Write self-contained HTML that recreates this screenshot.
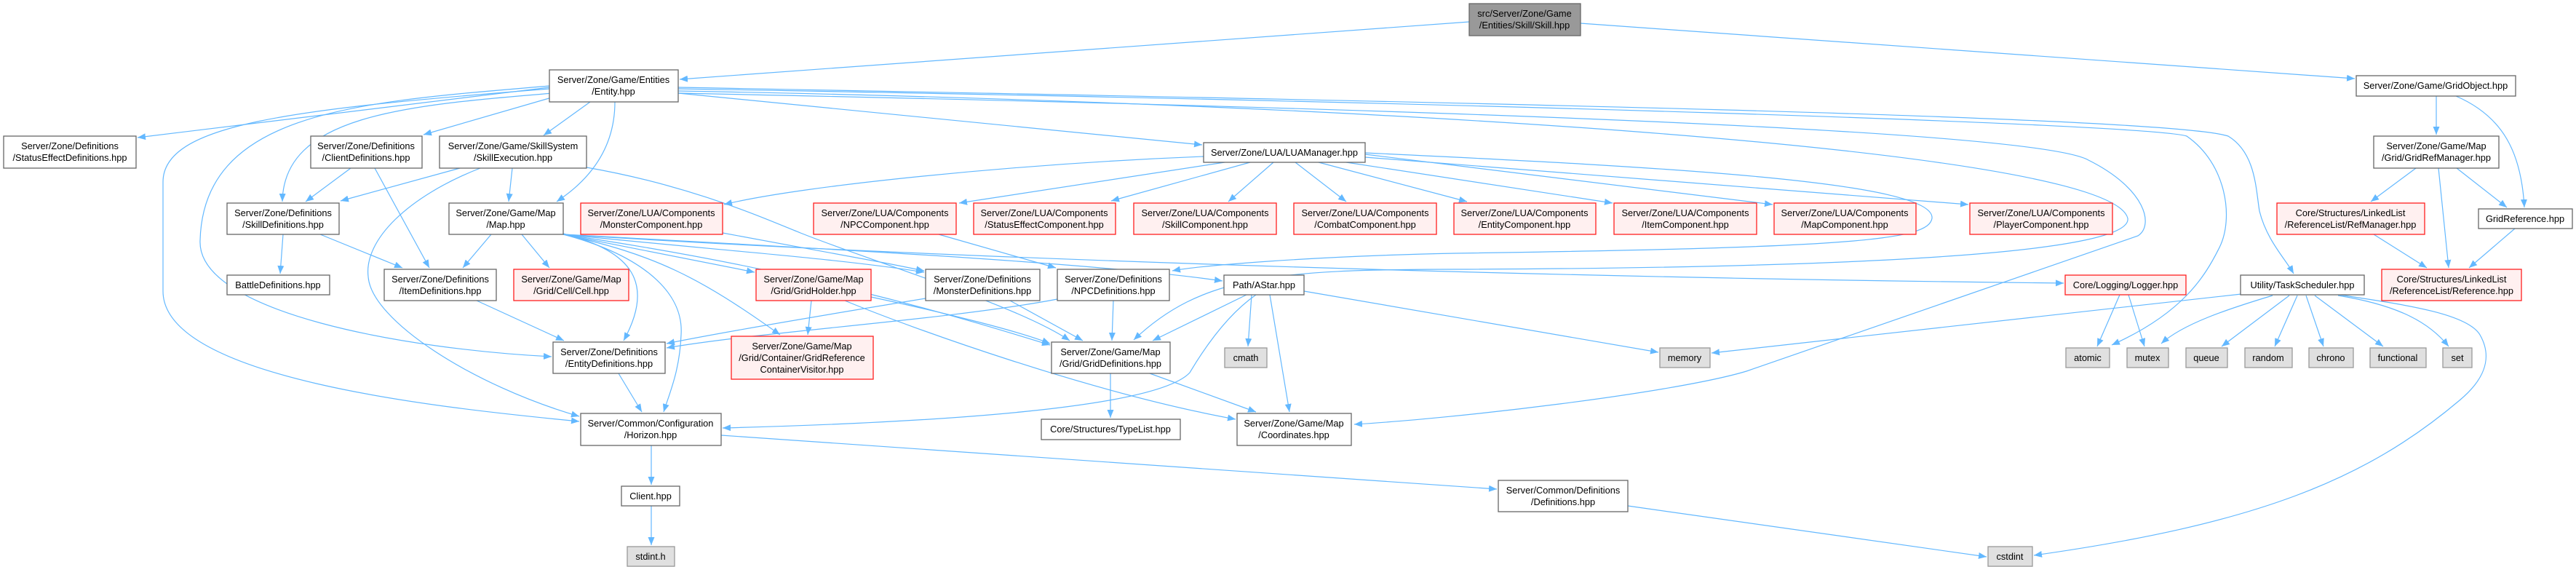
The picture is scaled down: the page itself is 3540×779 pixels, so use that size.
<!DOCTYPE html>
<html><head><meta charset="utf-8"><style>
html,body{margin:0;padding:0;background:#fff;}
svg{display:block;}
text{font-family:"Liberation Sans",Arial,sans-serif;font-size:12.8px;fill:#000;text-anchor:middle;}
.n{fill:#fff;stroke:#666;stroke-width:1.3;}
.r{fill:#fff0f0;stroke:#ff2020;stroke-width:1.3;}
.g{fill:#e0e0e0;stroke:#999;stroke-width:1.3;}
.root{fill:#999;stroke:#666;stroke-width:1.3;}
path.e{fill:none;stroke:#63b8ff;stroke-width:1.2;marker-end:url(#a);}
</style></head><body>
<svg width="3540" height="779" viewBox="0 0 3540 779" xmlns="http://www.w3.org/2000/svg">
<defs><marker id="a" markerUnits="userSpaceOnUse" markerWidth="12" markerHeight="9" refX="11" refY="4.5" orient="auto"><path d="M0,0 L11,4.5 L0,9 z" fill="#63b8ff"/></marker></defs>

<!-- edges -->
<path class="e" d="M2019,30 L934,109"/>
<path class="e" d="M2172,32 L3236,108"/>
<path class="e" d="M755,120 L189,189"/>
<path class="e" d="M758,134 L582,185"/>
<path class="e" d="M760,128 C 550,145 390,160 388,277"/>
<path class="e" d="M811,140 L747,186"/>
<path class="e" d="M845,140 C 845,220 790,260 765,277"/>
<path class="e" d="M755,118 C 500,140 280,150 275,330 C 270,430 560,480 758,490"/>
<path class="e" d="M755,122 C 400,150 224,170 224,250 L224,400 C 224,520 600,560 796,579"/>
<path class="e" d="M932,128 L1652,199"/>
<path class="e" d="M932,128 C 2000,150 2800,180 2870,220 C 2950,260 2960,310 2938,324 L2400,510 C 2300,540 2000,575 1861,583"/>
<path class="e" d="M932,122 C 2000,140 2950,170 3005,187 C 3060,225 3070,300 3050,340 C 3030,380 3000,430 2902,474"/>
<path class="e" d="M932,120 C 2000,140 2980,160 3062,187 C 3100,210 3100,260 3105,290 C 3115,330 3140,355 3152,376"/>
<path class="e" d="M932,125 C 1800,140 2900,200 2924,300 C 2930,345 2600,368 2000,370 C 1750,370 1650,380 1558,467"/>
<path class="e" d="M482,231 L420,277"/>
<path class="e" d="M515,231 L590,368"/>
<path class="e" d="M632,231 L468,276"/>
<path class="e" d="M660,231 C 560,270 500,330 506,380 C 510,440 650,530 796,572"/>
<path class="e" d="M704,231 L699,277"/>
<path class="e" d="M806,230 C 950,255 1050,300 1100,320 C 1200,360 1400,420 1470,468"/>
<path class="e" d="M389,322 L385,376"/>
<path class="e" d="M440,322 L553,368"/>
<path class="e" d="M675,322 L636,368"/>
<path class="e" d="M717,322 L755,368"/>
<path class="e" d="M774,321 C 870,345 900,390 857,468"/>
<path class="e" d="M774,322 C 880,350 940,400 936,460 C 934,510 920,540 912,566"/>
<path class="e" d="M774,322 L1037,374"/>
<path class="e" d="M774,322 C 900,350 960,380 1072,460"/>
<path class="e" d="M774,322 C 1000,345 1150,355 1270,374"/>
<path class="e" d="M774,322 C 1100,370 1300,430 1443,474"/>
<path class="e" d="M774,322 C 1100,340 1500,360 1680,386"/>
<path class="e" d="M774,322 C 1200,350 2000,380 2836,389"/>
<path class="e" d="M655,413 L775,468"/>
<path class="e" d="M1115,413 L1110,460"/>
<path class="e" d="M1161,413 C 1250,450 1500,540 1698,576"/>
<path class="e" d="M1197,408 C 1300,430 1400,455 1443,472"/>
<path class="e" d="M1272,410 C 1150,430 1000,455 916,472"/>
<path class="e" d="M1453,411 C 1300,440 1050,455 916,478"/>
<path class="e" d="M1388,413 L1488,468"/>
<path class="e" d="M1530,413 L1528,468"/>
<path class="e" d="M850,513 L882,566"/>
<path class="e" d="M895,612 L895,666"/>
<path class="e" d="M895,695 L895,749"/>
<path class="e" d="M991,598 L2057,672"/>
<path class="e" d="M2237,695 L2730,765"/>
<path class="e" d="M1526,513 L1526,574"/>
<path class="e" d="M1580,513 L1726,566"/>
<path class="e" d="M1720,405 L1715,476"/>
<path class="e" d="M1745,405 L1772,566"/>
<path class="e" d="M1713,405 L1584,468"/>
<path class="e" d="M1726,405 C 1690,430 1660,470 1635,512 C 1590,560 1300,580 993,588"/>
<path class="e" d="M1792,400 L2279,484"/>
<path class="e" d="M993,320 L1220,362 L1270,372"/>
<path class="e" d="M1290,322 L1451,368"/>
<path class="e" d="M1654,215 C 1400,225 1100,255 995,281"/>
<path class="e" d="M1683,223 L1318,279"/>
<path class="e" d="M1718,223 L1527,276"/>
<path class="e" d="M1750,223 L1688,277"/>
<path class="e" d="M1780,223 L1850,277"/>
<path class="e" d="M1812,223 L2016,277"/>
<path class="e" d="M1850,223 L2216,279"/>
<path class="e" d="M1876,212 L2436,281"/>
<path class="e" d="M1876,216 L2705,281"/>
<path class="e" d="M1876,210 C 2300,230 2660,250 2655,300 C 2650,330 2550,340 2000,348 C 1800,352 1650,365 1611,372"/>
<path class="e" d="M3348,132 L3348,185"/>
<path class="e" d="M3375,132 C 3440,160 3465,210 3469,285"/>
<path class="e" d="M3320,231 L3258,277"/>
<path class="e" d="M3351,231 L3365,368"/>
<path class="e" d="M3376,231 L3445,285"/>
<path class="e" d="M3262,322 L3335,368"/>
<path class="e" d="M3456,314 L3393,368"/>
<path class="e" d="M3080,404 L2352,485"/>
<path class="e" d="M3123,406 C 3060,425 3000,445 2970,472"/>
<path class="e" d="M3146,406 L3053,476"/>
<path class="e" d="M3157,406 L3126,476"/>
<path class="e" d="M3169,406 L3193,476"/>
<path class="e" d="M3181,406 L3275,476"/>
<path class="e" d="M3213,406 C 3300,420 3340,445 3365,476"/>
<path class="e" d="M3215,405 C 3300,418 3390,430 3408,460 C 3428,495 3410,525 3380,550 C 3250,660 3100,720 2795,763"/>
<path class="e" d="M2913,405 L2882,476"/>
<path class="e" d="M2925,405 L2947,476"/>

<!-- nodes -->
<rect class="root" x="2019" y="5" width="153" height="44"/><text x="2095" y="23">src/Server/Zone/Game</text><text x="2095" y="39">/Entities/Skill/Skill.hpp</text>
<rect class="n" x="755" y="96" width="177" height="44"/><text x="843" y="114">Server/Zone/Game/Entities</text><text x="843" y="130">/Entity.hpp</text>
<rect class="n" x="3238" y="104" width="219" height="28"/><text x="3347" y="122">Server/Zone/Game/GridObject.hpp</text>
<rect class="n" x="5" y="187" width="182" height="44"/><text x="96" y="205">Server/Zone/Definitions</text><text x="96" y="221">/StatusEffectDefinitions.hpp</text>
<rect class="n" x="427" y="187" width="153" height="44"/><text x="503" y="205">Server/Zone/Definitions</text><text x="503" y="221">/ClientDefinitions.hpp</text>
<rect class="n" x="604" y="187" width="202" height="44"/><text x="705" y="205">Server/Zone/Game/SkillSystem</text><text x="705" y="221">/SkillExecution.hpp</text>
<rect class="n" x="1654" y="196" width="222" height="27"/><text x="1765" y="214">Server/Zone/LUA/LUAManager.hpp</text>
<rect class="n" x="3262" y="187" width="172" height="44"/><text x="3348" y="205">Server/Zone/Game/Map</text><text x="3348" y="221">/Grid/GridRefManager.hpp</text>
<rect class="n" x="312" y="279" width="154" height="43"/><text x="389" y="297">Server/Zone/Definitions</text><text x="389" y="313">/SkillDefinitions.hpp</text>
<rect class="n" x="617" y="279" width="157" height="43"/><text x="695" y="297">Server/Zone/Game/Map</text><text x="695" y="313">/Map.hpp</text>
<rect class="r" x="798" y="279" width="195" height="43"/><text x="895" y="297">Server/Zone/LUA/Components</text><text x="895" y="313">/MonsterComponent.hpp</text>
<rect class="r" x="1118" y="279" width="196" height="43"/><text x="1216" y="297">Server/Zone/LUA/Components</text><text x="1216" y="313">/NPCComponent.hpp</text>
<rect class="r" x="1338" y="279" width="195" height="43"/><text x="1435" y="297">Server/Zone/LUA/Components</text><text x="1435" y="313">/StatusEffectComponent.hpp</text>
<rect class="r" x="1558" y="279" width="196" height="43"/><text x="1656" y="297">Server/Zone/LUA/Components</text><text x="1656" y="313">/SkillComponent.hpp</text>
<rect class="r" x="1778" y="279" width="196" height="43"/><text x="1876" y="297">Server/Zone/LUA/Components</text><text x="1876" y="313">/CombatComponent.hpp</text>
<rect class="r" x="1998" y="279" width="195" height="43"/><text x="2095" y="297">Server/Zone/LUA/Components</text><text x="2095" y="313">/EntityComponent.hpp</text>
<rect class="r" x="2218" y="279" width="196" height="43"/><text x="2316" y="297">Server/Zone/LUA/Components</text><text x="2316" y="313">/ItemComponent.hpp</text>
<rect class="r" x="2438" y="279" width="195" height="43"/><text x="2535" y="297">Server/Zone/LUA/Components</text><text x="2535" y="313">/MapComponent.hpp</text>
<rect class="r" x="2707" y="279" width="196" height="43"/><text x="2805" y="297">Server/Zone/LUA/Components</text><text x="2805" y="313">/PlayerComponent.hpp</text>
<rect class="r" x="3129" y="279" width="203" height="43"/><text x="3230" y="297">Core/Structures/LinkedList</text><text x="3230" y="313">/ReferenceList/RefManager.hpp</text>
<rect class="n" x="3406" y="287" width="129" height="27"/><text x="3470" y="305">GridReference.hpp</text>
<rect class="n" x="312" y="378" width="141" height="27"/><text x="382" y="396">BattleDefinitions.hpp</text>
<rect class="n" x="528" y="370" width="154" height="43"/><text x="605" y="388">Server/Zone/Definitions</text><text x="605" y="404">/ItemDefinitions.hpp</text>
<rect class="r" x="706" y="370" width="158" height="43"/><text x="785" y="388">Server/Zone/Game/Map</text><text x="785" y="404">/Grid/Cell/Cell.hpp</text>
<rect class="r" x="1039" y="370" width="158" height="43"/><text x="1118" y="388">Server/Zone/Game/Map</text><text x="1118" y="404">/Grid/GridHolder.hpp</text>
<rect class="n" x="1272" y="370" width="157" height="43"/><text x="1350" y="388">Server/Zone/Definitions</text><text x="1350" y="404">/MonsterDefinitions.hpp</text>
<rect class="n" x="1453" y="370" width="154" height="43"/><text x="1530" y="388">Server/Zone/Definitions</text><text x="1530" y="404">/NPCDefinitions.hpp</text>
<rect class="n" x="1682" y="378" width="110" height="27"/><text x="1737" y="396">Path/AStar.hpp</text>
<rect class="r" x="2838" y="378" width="166" height="27"/><text x="2921" y="396">Core/Logging/Logger.hpp</text>
<rect class="n" x="3079" y="378" width="170" height="27"/><text x="3164" y="396">Utility/TaskScheduler.hpp</text>
<rect class="r" x="3273" y="370" width="192" height="43"/><text x="3369" y="388">Core/Structures/LinkedList</text><text x="3369" y="404">/ReferenceList/Reference.hpp</text>
<rect class="n" x="760" y="470" width="154" height="43"/><text x="837" y="488">Server/Zone/Definitions</text><text x="837" y="504">/EntityDefinitions.hpp</text>
<rect class="r" x="1005" y="462" width="195" height="59"/><text x="1102" y="480">Server/Zone/Game/Map</text><text x="1102" y="496">/Grid/Container/GridReference</text><text x="1102" y="512">ContainerVisitor.hpp</text>
<rect class="n" x="1445" y="470" width="163" height="43"/><text x="1526" y="488">Server/Zone/Game/Map</text><text x="1526" y="504">/Grid/GridDefinitions.hpp</text>
<rect class="g" x="1683" y="478" width="58" height="27"/><text x="1712" y="496">cmath</text>
<rect class="g" x="2281" y="478" width="69" height="27"/><text x="2315" y="496">memory</text>
<rect class="g" x="2839" y="478" width="60" height="27"/><text x="2869" y="496">atomic</text>
<rect class="g" x="2923" y="478" width="57" height="27"/><text x="2951" y="496">mutex</text>
<rect class="g" x="3004" y="478" width="57" height="27"/><text x="3032" y="496">queue</text>
<rect class="g" x="3085" y="478" width="65" height="27"/><text x="3117" y="496">random</text>
<rect class="g" x="3173" y="478" width="61" height="27"/><text x="3203" y="496">chrono</text>
<rect class="g" x="3257" y="478" width="77" height="27"/><text x="3295" y="496">functional</text>
<rect class="g" x="3357" y="478" width="40" height="27"/><text x="3377" y="496">set</text>
<rect class="n" x="798" y="568" width="193" height="44"/><text x="894" y="586">Server/Common/Configuration</text><text x="894" y="602">/Horizon.hpp</text>
<rect class="n" x="1431" y="576" width="191" height="28"/><text x="1526" y="594">Core/Structures/TypeList.hpp</text>
<rect class="n" x="1700" y="568" width="157" height="44"/><text x="1778" y="586">Server/Zone/Game/Map</text><text x="1778" y="602">/Coordinates.hpp</text>
<rect class="n" x="854" y="668" width="80" height="27"/><text x="894" y="686">Client.hpp</text>
<rect class="n" x="2059" y="660" width="178" height="43"/><text x="2148" y="678">Server/Common/Definitions</text><text x="2148" y="694">/Definitions.hpp</text>
<rect class="g" x="862" y="751" width="65" height="27"/><text x="894" y="769">stdint.h</text>
<rect class="g" x="2732" y="751" width="61" height="27"/><text x="2762" y="769">cstdint</text>
</svg>
</body></html>
